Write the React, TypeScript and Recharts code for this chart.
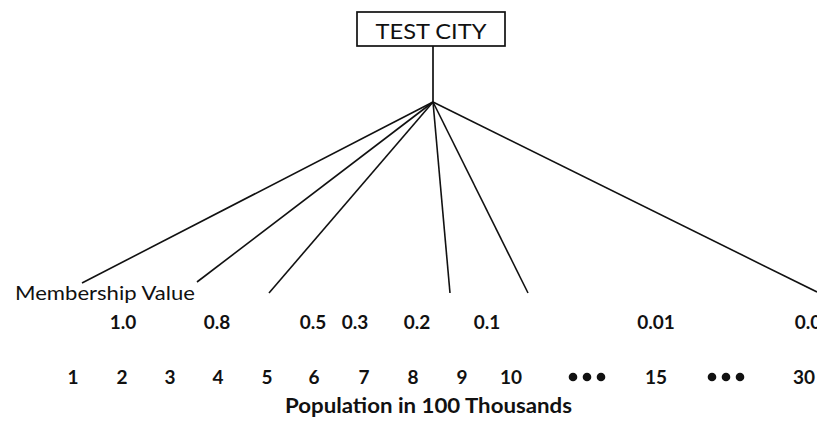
import React from "react";
import { ScatterChart, Scatter, XAxis, YAxis } from "recharts";

const W = 817;
const H = 427;

// diagram geometry (layout units = pixels of the figure)
const hub = { x: 433, y: 102 };
const boxBottom = { x: 433, y: 46 };
const rayEnds = [
  { x: 82, y: 283 },
  { x: 197, y: 282 },
  { x: 269, y: 293 },
  { x: 450, y: 293 },
  { x: 528, y: 293 },
  { x: 817, y: 292 },
];

const cityLabel = "TEST CITY";
const membershipTitle = "Membership Value";
const membershipLabels = ["1.0", "0.8", "0.5", "0.3", "0.2", "0.1", "0.01", "0.001"];
const membershipX = [123, 217, 313, 355, 417, 487, 656, 819];
const populationTicks = ["1", "2", "3", "4", "5", "6", "7", "8", "9", "10", "•••", "15", "•••", "30"];
const populationX = [73, 122, 170, 218, 267, 314, 364, 413, 462, 511, 587, 656, 726, 804];
const populationTitle = "Population in 100 Thousands";

const FONT = "Lato, 'Open Sans', sans-serif";

const membershipData = membershipLabels.map((label, i) => ({ x: membershipX[i], y: 329, label }));
const populationData = populationTicks.map((label, i) => ({ x: populationX[i], y: 384, label }));

const Nothing = () => <g />;

const ValueText = (props: any) => {
  const { cx, cy, payload } = props;
  return (
    <text x={cx} y={cy} textAnchor="middle" fontFamily={FONT} fontWeight={700} fontSize={19} fill="#111">
      {payload.label}
    </text>
  );
};

const TickText = (props: any) => {
  const { cx, cy, payload } = props;
  if (payload.label === "•••") {
    return (
      <g>
        <title>{payload.label}</title>
        {[-14, 0, 14].map((d) => (
          <circle key={d} cx={cx + d} cy={cy - 7} r={4.3} fill="#111" />
        ))}
      </g>
    );
  }
  return (
    <text x={cx} y={cy} textAnchor="middle" fontFamily={FONT} fontWeight={700} fontSize={19} fill="#111">
      {payload.label}
    </text>
  );
};

const CityBox = (props: any) => {
  const { cx, cy, payload } = props;
  return (
    <g>
      <rect x={cx - 74} y={cy - 17} width={148} height={34} fill="#fff" stroke="#111" strokeWidth={1.7} />
      <text x={cx} y={cy + 10} textAnchor="middle" fontFamily={FONT} fontSize={21} fill="#111" textLength={111} lengthAdjust="spacingAndGlyphs">
        {payload.label}
      </text>
    </g>
  );
};

const PlainText = (props: any) => {
  const { cx, cy, payload } = props;
  return (
    <text x={cx} y={cy} textAnchor={payload.anchor} fontFamily={FONT} fontWeight={payload.weight} fontSize={payload.size} fill="#111" textLength={payload.len} lengthAdjust="spacingAndGlyphs">
      {payload.label}
    </text>
  );
};

export default function App() {
  return (
    <div style={{ position: "absolute", left: 0, top: 0, background: "#fff" }}>
      <ScatterChart width={W} height={H} margin={{ top: 0, right: 0, bottom: 0, left: 0 }}>
        <XAxis type="number" dataKey="x" domain={[0, W]} hide allowDataOverflow />
        <YAxis type="number" dataKey="y" domain={[0, H]} reversed hide allowDataOverflow />
        <Scatter data={[boxBottom, hub]} line={{ stroke: "#111", strokeWidth: 1.7 }} shape={Nothing} isAnimationActive={false} />
        {rayEnds.map((end, i) => (
          <Scatter key={i} data={[hub, end]} line={{ stroke: "#111", strokeWidth: 1.6 }} shape={Nothing} isAnimationActive={false} />
        ))}
        <Scatter data={[{ x: 431, y: 29, label: cityLabel }]} shape={CityBox} isAnimationActive={false} />
        <Scatter
          data={[
            { x: 15, y: 300, label: membershipTitle, anchor: "start", size: 20, weight: 400, len: 180 },
            { x: 285, y: 413, label: populationTitle, anchor: "start", size: 20, weight: 700, len: 287 },
          ]}
          shape={PlainText}
          isAnimationActive={false}
        />
        <Scatter data={membershipData} shape={ValueText} isAnimationActive={false} />
        <Scatter data={populationData} shape={TickText} isAnimationActive={false} />
      </ScatterChart>
    </div>
  );
}
